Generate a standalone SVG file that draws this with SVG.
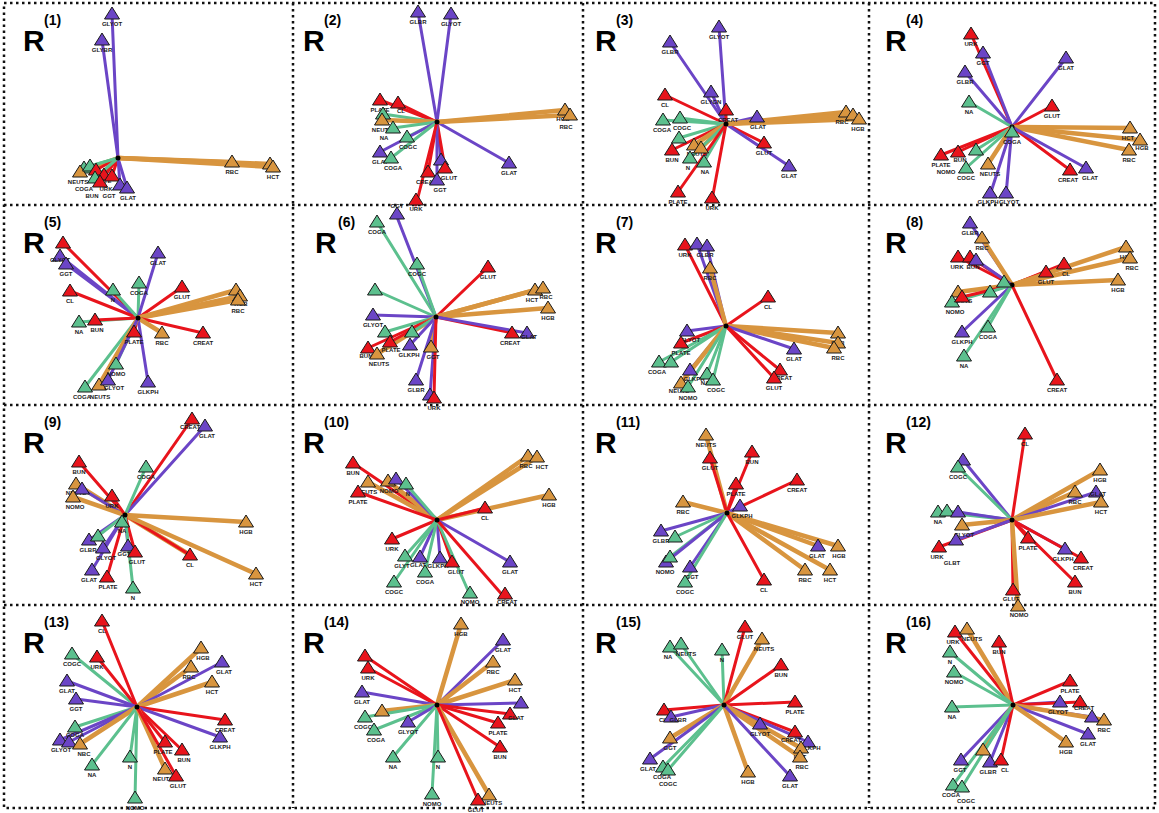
<svg xmlns="http://www.w3.org/2000/svg" width="1159" height="813" viewBox="0 0 1159 813">
<defs>
<style>
.frame{stroke:#111;stroke-width:2.5;stroke-dasharray:2.5 3.5;fill:none}
.cn line{stroke-width:3;stroke-linecap:round}
line.p{stroke:#6b45c6}
line.r{stroke:#e8141c}
line.o{stroke:#d8953f;stroke-width:4.5}
line.g{stroke:#5cc08e}
use{stroke:#1a1a1a;stroke-width:1}
use.p{fill:#6b45c6}
use.r{fill:#e8141c}
use.o{fill:#d8953f}
use.g{fill:#5cc08e}
.lb{font-family:"Liberation Sans",Arial,sans-serif;font-weight:700;font-size:6px;fill:#1a1a1a;text-anchor:middle}
.t{font-family:"Liberation Sans",Arial,sans-serif;font-weight:700;font-size:30px;fill:#000}
.s{font-family:"Liberation Sans",Arial,sans-serif;font-weight:700;font-size:14px;fill:#000}
.ctr{fill:#000}
</style>
<path id="tri" d="M0,-7L7.5,5H-7.5Z"/>
</defs>
<rect width="1159" height="813" fill="#fff"/>
<path class="frame" d="M4,3H1155V808H4Z M293,3V808 M583,3V808 M869,3V808 M4,205H1155 M4,405H1155 M4,605H1155"/>

<g id="titles">
<text class="t" x="23" y="51">R</text><text class="s" x="44" y="25">(1)</text>
<text class="t" x="303" y="51">R</text><text class="s" x="324" y="25">(2)</text>
<text class="t" x="595" y="51">R</text><text class="s" x="616" y="25">(3)</text>
<text class="t" x="885" y="51">R</text><text class="s" x="906" y="25">(4)</text>
<text class="t" x="23" y="253">R</text><text class="s" x="44" y="227">(5)</text>
<text class="t" x="315" y="253">R</text><text class="s" x="338" y="227">(6)</text>
<text class="t" x="595" y="253">R</text><text class="s" x="616" y="227">(7)</text>
<text class="t" x="885" y="253">R</text><text class="s" x="906" y="227">(8)</text>
<text class="t" x="23" y="453">R</text><text class="s" x="44" y="427">(9)</text>
<text class="t" x="303" y="453">R</text><text class="s" x="324" y="427">(10)</text>
<text class="t" x="595" y="453">R</text><text class="s" x="616" y="427">(11)</text>
<text class="t" x="885" y="453">R</text><text class="s" x="906" y="427">(12)</text>
<text class="t" x="23" y="653">R</text><text class="s" x="44" y="627">(13)</text>
<text class="t" x="303" y="653">R</text><text class="s" x="324" y="627">(14)</text>
<text class="t" x="595" y="653">R</text><text class="s" x="616" y="627">(15)</text>
<text class="t" x="885" y="653">R</text><text class="s" x="906" y="627">(16)</text>
</g>

<!-- Panel 1 -->
<g id="panel1">
<g id="conn1" class="cn">
<line class="p" x1="118" y1="158" x2="112" y2="14"/>
<line class="p" x1="118" y1="158" x2="102" y2="40"/>
<line class="p" x1="118" y1="158" x2="127" y2="188"/>
<line class="o" x1="118" y1="158" x2="232" y2="162"/>
<line class="o" x1="118" y1="158" x2="270" y2="164"/>
<line class="o" x1="118" y1="158" x2="273" y2="167"/>
<line class="g" x1="118" y1="158" x2="84" y2="168"/>
<line class="o" x1="118" y1="158" x2="80" y2="172"/>
<line class="r" x1="118" y1="158" x2="96" y2="170"/>
<line class="g" x1="118" y1="158" x2="90" y2="166"/>
<line class="r" x1="118" y1="158" x2="104" y2="175"/>
<line class="r" x1="118" y1="158" x2="112" y2="176"/>
<line class="r" x1="118" y1="158" x2="100" y2="182"/>
<line class="p" x1="118" y1="158" x2="120" y2="185"/>
<line class="g" x1="118" y1="158" x2="95" y2="178"/>
</g>
<circle class="ctr" cx="118" cy="158" r="2.5"/>
<g id="n1-1"><use href="#tri" class="p" x="112" y="14"/><text class="lb" x="112" y="26">GLYOT</text></g>
<g id="n1-2"><use href="#tri" class="p" x="102" y="40"/><text class="lb" x="102" y="52">GLYBR</text></g>
<g id="n1-3"><use href="#tri" class="o" x="232" y="162"/><text class="lb" x="232" y="174">RBC</text></g>
<g id="n1-4"><use href="#tri" class="o" x="270" y="164"/></g>
<g id="n1-5"><use href="#tri" class="o" x="273" y="167"/><text class="lb" x="273" y="179">HCT</text></g>
<g id="n1-6"><use href="#tri" class="g" x="84" y="168"/></g>
<g id="n1-7"><use href="#tri" class="o" x="80" y="172"/><text class="lb" x="78" y="184">NEUTS</text></g>
<g id="n1-8"><use href="#tri" class="g" x="90" y="166"/></g>
<g id="n1-9"><use href="#tri" class="r" x="96" y="170"/><text class="lb" x="102" y="183">PLATE</text></g>
<g id="n1-10"><use href="#tri" class="r" x="104" y="175"/><text class="lb" x="106" y="191">URK</text></g>
<g id="n1-11"><use href="#tri" class="r" x="112" y="176"/></g>
<g id="n1-12"><use href="#tri" class="g" x="95" y="178"/><text class="lb" x="84" y="191">COGA</text></g>
<g id="n1-13"><use href="#tri" class="r" x="100" y="182"/><text class="lb" x="92" y="198">BUN</text></g>
<g id="n1-14"><use href="#tri" class="p" x="120" y="185"/><text class="lb" x="109" y="198">GGT</text></g>
<g id="n1-15"><use href="#tri" class="p" x="127" y="188"/><text class="lb" x="128" y="200">GLAT</text></g>
</g>

<!-- Panel 2 -->
<g id="panel2">
<g id="conn2" class="cn">
<line class="p" x1="437" y1="122" x2="418" y2="12"/>
<line class="p" x1="437" y1="122" x2="451" y2="14"/>
<line class="r" x1="437" y1="122" x2="380" y2="100"/>
<line class="r" x1="437" y1="122" x2="398" y2="103"/>
<line class="g" x1="437" y1="122" x2="383" y2="114"/>
<line class="o" x1="437" y1="122" x2="382" y2="120"/>
<line class="g" x1="437" y1="122" x2="393" y2="128"/>
<line class="g" x1="437" y1="122" x2="407" y2="137"/>
<line class="p" x1="437" y1="122" x2="380" y2="152"/>
<line class="g" x1="437" y1="122" x2="391" y2="158"/>
<line class="r" x1="437" y1="122" x2="428" y2="172"/>
<line class="p" x1="437" y1="122" x2="441" y2="160"/>
<line class="r" x1="437" y1="122" x2="445" y2="168"/>
<line class="p" x1="437" y1="122" x2="437" y2="180"/>
<line class="r" x1="437" y1="122" x2="416" y2="205"/>
<line class="p" x1="437" y1="122" x2="509" y2="163"/>
<line class="o" x1="437" y1="122" x2="565" y2="110"/>
<line class="o" x1="437" y1="122" x2="570" y2="115"/>
</g>
<circle class="ctr" cx="437" cy="122" r="2.5"/>
<g id="n2-1"><use href="#tri" class="p" x="418" y="12"/><text class="lb" x="418" y="24">GLBR</text></g>
<g id="n2-2"><use href="#tri" class="p" x="451" y="14"/><text class="lb" x="451" y="26">GLYOT</text></g>
<g id="n2-3"><use href="#tri" class="r" x="380" y="100"/><text class="lb" x="380" y="112">PLATE</text></g>
<g id="n2-4"><use href="#tri" class="r" x="398" y="103"/><text class="lb" x="401" y="113">CL</text></g>
<g id="n2-5"><use href="#tri" class="g" x="383" y="114"/></g>
<g id="n2-6"><use href="#tri" class="o" x="382" y="120"/><text class="lb" x="382" y="132">NEUTS</text></g>
<g id="n2-7"><use href="#tri" class="g" x="393" y="128"/><text class="lb" x="384" y="140">NA</text></g>
<g id="n2-8"><use href="#tri" class="g" x="407" y="137"/><text class="lb" x="408" y="149">COGC</text></g>
<g id="n2-9"><use href="#tri" class="p" x="380" y="152"/><text class="lb" x="380" y="164">GLAT</text></g>
<g id="n2-10"><use href="#tri" class="g" x="391" y="158"/><text class="lb" x="393" y="170">COGA</text></g>
<g id="n2-11"><use href="#tri" class="p" x="441" y="160"/></g>
<g id="n2-12"><use href="#tri" class="r" x="445" y="168"/><text class="lb" x="449" y="180">GLUT</text></g>
<g id="n2-13"><use href="#tri" class="r" x="428" y="172"/><text class="lb" x="426" y="184">CREAT</text></g>
<g id="n2-14"><use href="#tri" class="p" x="437" y="180"/><text class="lb" x="440" y="192">GGT</text></g>
<g id="n2-15"><use href="#tri" class="r" x="416" y="200"/><text class="lb" x="416" y="211">URK</text></g>
<g id="n2-16"><use href="#tri" class="p" x="509" y="163"/><text class="lb" x="509" y="175">GLAT</text></g>
<g id="n2-17"><use href="#tri" class="o" x="565" y="110"/><text class="lb" x="563" y="121">HGB</text></g>
<g id="n2-18"><use href="#tri" class="o" x="570" y="115"/><text class="lb" x="566" y="129">RBC</text></g>
</g>

<!-- Panel 3 -->
<g id="panel3">
<g id="conn3" class="cn">
<line class="p" x1="726" y1="124" x2="670" y2="42"/>
<line class="p" x1="726" y1="124" x2="719" y2="27"/>
<line class="p" x1="726" y1="124" x2="711" y2="92"/>
<line class="r" x1="726" y1="124" x2="665" y2="95"/>
<line class="r" x1="726" y1="124" x2="726" y2="110"/>
<line class="p" x1="726" y1="124" x2="757" y2="117"/>
<line class="g" x1="726" y1="124" x2="663" y2="120"/>
<line class="g" x1="726" y1="124" x2="680" y2="118"/>
<line class="g" x1="726" y1="124" x2="679" y2="138"/>
<line class="r" x1="726" y1="124" x2="672" y2="150"/>
<line class="o" x1="726" y1="124" x2="694" y2="145"/>
<line class="o" x1="726" y1="124" x2="701" y2="148"/>
<line class="g" x1="726" y1="124" x2="690" y2="158"/>
<line class="g" x1="726" y1="124" x2="704" y2="162"/>
<line class="r" x1="726" y1="124" x2="764" y2="143"/>
<line class="p" x1="726" y1="124" x2="789" y2="166"/>
<line class="r" x1="726" y1="124" x2="678" y2="192"/>
<line class="r" x1="726" y1="124" x2="712" y2="200"/>
<line class="o" x1="726" y1="124" x2="846" y2="112"/>
<line class="o" x1="726" y1="124" x2="853" y2="115"/>
<line class="o" x1="726" y1="124" x2="859" y2="119"/>
</g>
<circle class="ctr" cx="726" cy="124" r="2.5"/>
<g id="n3-1"><use href="#tri" class="p" x="670" y="42"/><text class="lb" x="670" y="54">GLBR</text></g>
<g id="n3-2"><use href="#tri" class="p" x="719" y="27"/><text class="lb" x="719" y="39">GLYOT</text></g>
<g id="n3-3"><use href="#tri" class="p" x="711" y="92"/><text class="lb" x="711" y="104">GLYGN</text></g>
<g id="n3-4"><use href="#tri" class="r" x="665" y="95"/><text class="lb" x="665" y="107">CL</text></g>
<g id="n3-5"><use href="#tri" class="r" x="726" y="110"/><text class="lb" x="728" y="122">CREAT</text></g>
<g id="n3-6"><use href="#tri" class="p" x="757" y="117"/><text class="lb" x="758" y="129">GLAT</text></g>
<g id="n3-7"><use href="#tri" class="g" x="663" y="120"/><text class="lb" x="662" y="132">COGA</text></g>
<g id="n3-8"><use href="#tri" class="g" x="680" y="118"/><text class="lb" x="682" y="130">COGC</text></g>
<g id="n3-9"><use href="#tri" class="g" x="679" y="138"/></g>
<g id="n3-10"><use href="#tri" class="r" x="672" y="150"/><text class="lb" x="672" y="162">BUN</text></g>
<g id="n3-11"><use href="#tri" class="o" x="694" y="145"/><text class="lb" x="697" y="156">NEUTS</text></g>
<g id="n3-12"><use href="#tri" class="o" x="701" y="148"/></g>
<g id="n3-13"><use href="#tri" class="g" x="690" y="158"/><text class="lb" x="688" y="170">N</text></g>
<g id="n3-14"><use href="#tri" class="g" x="704" y="162"/><text class="lb" x="705" y="174">NA</text></g>
<g id="n3-15"><use href="#tri" class="r" x="764" y="143"/><text class="lb" x="764" y="155">GLUT</text></g>
<g id="n3-16"><use href="#tri" class="p" x="789" y="166"/><text class="lb" x="789" y="178">GLAT</text></g>
<g id="n3-17"><use href="#tri" class="r" x="678" y="192"/><text class="lb" x="678" y="204">PLATE</text></g>
<g id="n3-18"><use href="#tri" class="r" x="712" y="198"/><text class="lb" x="712" y="210">URK</text></g>
<g id="n3-19"><use href="#tri" class="o" x="846" y="112"/><text class="lb" x="842" y="124">RBC</text></g>
<g id="n3-20"><use href="#tri" class="o" x="853" y="115"/></g>
<g id="n3-21"><use href="#tri" class="o" x="859" y="119"/><text class="lb" x="858" y="131">HGB</text></g>
</g>

<!-- Panel 4 -->
<g id="panel4">
<g id="conn4" class="cn">
<line class="r" x1="1012" y1="127" x2="971" y2="34"/>
<line class="p" x1="1012" y1="127" x2="983" y2="53"/>
<line class="p" x1="1012" y1="127" x2="965" y2="72"/>
<line class="g" x1="1012" y1="127" x2="969" y2="102"/>
<line class="p" x1="1012" y1="127" x2="1066" y2="58"/>
<line class="r" x1="1012" y1="127" x2="1052" y2="106"/>
<line class="o" x1="1012" y1="127" x2="1130" y2="128"/>
<line class="o" x1="1012" y1="127" x2="1140" y2="140"/>
<line class="o" x1="1012" y1="127" x2="1129" y2="150"/>
<line class="r" x1="1012" y1="127" x2="1070" y2="170"/>
<line class="p" x1="1012" y1="127" x2="1086" y2="168"/>
<line class="r" x1="1012" y1="127" x2="941" y2="155"/>
<line class="r" x1="1012" y1="127" x2="958" y2="152"/>
<line class="g" x1="1012" y1="127" x2="976" y2="150"/>
<line class="g" x1="1012" y1="127" x2="966" y2="168"/>
<line class="o" x1="1012" y1="127" x2="988" y2="164"/>
<line class="p" x1="1012" y1="127" x2="990" y2="195"/>
<line class="p" x1="1012" y1="127" x2="1006" y2="195"/>
</g>
<circle class="ctr" cx="1012" cy="127" r="2.5"/>
<g id="n4-1"><use href="#tri" class="r" x="971" y="34"/><text class="lb" x="971" y="46">URK</text></g>
<g id="n4-2"><use href="#tri" class="p" x="983" y="53"/><text class="lb" x="983" y="65">GGT</text></g>
<g id="n4-3"><use href="#tri" class="p" x="965" y="72"/><text class="lb" x="965" y="84">GLBR</text></g>
<g id="n4-4"><use href="#tri" class="g" x="969" y="102"/><text class="lb" x="969" y="114">NA</text></g>
<g id="n4-5"><use href="#tri" class="p" x="1066" y="58"/><text class="lb" x="1066" y="70">GLAT</text></g>
<g id="n4-6"><use href="#tri" class="r" x="1052" y="106"/><text class="lb" x="1052" y="118">GLUT</text></g>
<g id="n4-7"><use href="#tri" class="g" x="1012" y="132"/><text class="lb" x="1012" y="144">COGA</text></g>
<g id="n4-8"><use href="#tri" class="o" x="1130" y="128"/><text class="lb" x="1128" y="140">HCT</text></g>
<g id="n4-9"><use href="#tri" class="o" x="1140" y="140"/><text class="lb" x="1142" y="150">HGB</text></g>
<g id="n4-10"><use href="#tri" class="o" x="1129" y="150"/><text class="lb" x="1129" y="162">RBC</text></g>
<g id="n4-11"><use href="#tri" class="r" x="1070" y="170"/><text class="lb" x="1068" y="182">CREAT</text></g>
<g id="n4-12"><use href="#tri" class="p" x="1086" y="168"/><text class="lb" x="1090" y="180">GLAT</text></g>
<g id="n4-13"><use href="#tri" class="r" x="941" y="155"/><text class="lb" x="941" y="167">PLATE</text></g>
<g id="n4-14"><use href="#tri" class="r" x="958" y="152"/><text class="lb" x="960" y="162">BUN</text></g>
<g id="n4-15"><use href="#tri" class="g" x="976" y="150"/><text class="lb" x="946" y="174">NOMO</text></g>
<g id="n4-16"><use href="#tri" class="g" x="966" y="168"/><text class="lb" x="966" y="180">COGC</text></g>
<g id="n4-17"><use href="#tri" class="o" x="988" y="164"/><text class="lb" x="990" y="176">NEUTS</text></g>
<g id="n4-18"><use href="#tri" class="p" x="990" y="193"/><text class="lb" x="988" y="204">GLKPH</text></g>
<g id="n4-19"><use href="#tri" class="p" x="1006" y="193"/><text class="lb" x="1009" y="204">GLYOT</text></g>
</g>

<!-- Panel 5 -->
<g id="panel5">
<g id="conn5" class="cn">
<line class="r" x1="138" y1="318" x2="63" y2="243"/>
<line class="p" x1="138" y1="318" x2="60" y2="256"/>
<line class="p" x1="138" y1="318" x2="66" y2="264"/>
<line class="r" x1="138" y1="318" x2="70" y2="291"/>
<line class="g" x1="138" y1="318" x2="113" y2="290"/>
<line class="g" x1="138" y1="318" x2="139" y2="283"/>
<line class="p" x1="138" y1="318" x2="158" y2="253"/>
<line class="r" x1="138" y1="318" x2="182" y2="287"/>
<line class="o" x1="138" y1="318" x2="236" y2="290"/>
<line class="o" x1="138" y1="318" x2="240" y2="296"/>
<line class="o" x1="138" y1="318" x2="238" y2="300"/>
<line class="r" x1="138" y1="318" x2="203" y2="333"/>
<line class="o" x1="138" y1="318" x2="162" y2="333"/>
<line class="r" x1="138" y1="318" x2="134" y2="332"/>
<line class="g" x1="138" y1="318" x2="79" y2="322"/>
<line class="r" x1="138" y1="318" x2="95" y2="320"/>
<line class="g" x1="138" y1="318" x2="116" y2="364"/>
<line class="p" x1="138" y1="318" x2="148" y2="382"/>
<line class="g" x1="138" y1="318" x2="85" y2="387"/>
<line class="o" x1="138" y1="318" x2="99" y2="385"/>
<line class="p" x1="138" y1="318" x2="108" y2="380"/>
</g>
<circle class="ctr" cx="138" cy="318" r="2.5"/>
<g id="n5-1"><use href="#tri" class="r" x="63" y="243"/></g>
<g id="n5-2"><use href="#tri" class="p" x="60" y="256"/><text class="lb" x="60" y="262">GLYOT</text></g>
<g id="n5-3"><use href="#tri" class="p" x="66" y="264"/><text class="lb" x="66" y="276">GGT</text></g>
<g id="n5-4"><use href="#tri" class="r" x="70" y="291"/><text class="lb" x="70" y="303">CL</text></g>
<g id="n5-5"><use href="#tri" class="g" x="113" y="290"/><text class="lb" x="113" y="302">N</text></g>
<g id="n5-6"><use href="#tri" class="g" x="139" y="283"/><text class="lb" x="139" y="295">COGA</text></g>
<g id="n5-7"><use href="#tri" class="p" x="158" y="253"/><text class="lb" x="158" y="265">GLAT</text></g>
<g id="n5-8"><use href="#tri" class="r" x="182" y="287"/><text class="lb" x="182" y="299">GLUT</text></g>
<g id="n5-9"><use href="#tri" class="o" x="236" y="290"/></g>
<g id="n5-10"><use href="#tri" class="o" x="240" y="296"/><text class="lb" x="241" y="306">HGB</text></g>
<g id="n5-11"><use href="#tri" class="o" x="238" y="300"/><text class="lb" x="238" y="313">RBC</text></g>
<g id="n5-12"><use href="#tri" class="r" x="203" y="333"/><text class="lb" x="203" y="345">CREAT</text></g>
<g id="n5-13"><use href="#tri" class="o" x="162" y="333"/><text class="lb" x="162" y="345">RBC</text></g>
<g id="n5-14"><use href="#tri" class="r" x="134" y="332"/><text class="lb" x="134" y="344">PLATE</text></g>
<g id="n5-15"><use href="#tri" class="g" x="79" y="322"/><text class="lb" x="79" y="334">NA</text></g>
<g id="n5-16"><use href="#tri" class="r" x="95" y="320"/><text class="lb" x="97" y="332">BUN</text></g>
<g id="n5-17"><use href="#tri" class="g" x="116" y="364"/><text class="lb" x="116" y="376">NOMO</text></g>
<g id="n5-18"><use href="#tri" class="p" x="148" y="382"/><text class="lb" x="148" y="394">GLKPH</text></g>
<g id="n5-19"><use href="#tri" class="g" x="85" y="387"/><text class="lb" x="82" y="399">COGA</text></g>
<g id="n5-20"><use href="#tri" class="o" x="99" y="385"/><text class="lb" x="100" y="399">NEUTS</text></g>
<g id="n5-21"><use href="#tri" class="p" x="108" y="380"/><text class="lb" x="114" y="390">GLYOT</text></g>
</g>

<!-- Panel 6 -->
<g id="panel6">
<g id="conn6" class="cn">
<line class="g" x1="436" y1="317" x2="377" y2="222"/>
<line class="p" x1="436" y1="317" x2="397" y2="217"/>
<line class="g" x1="436" y1="317" x2="417" y2="264"/>
<line class="r" x1="436" y1="317" x2="488" y2="267"/>
<line class="o" x1="436" y1="317" x2="535" y2="290"/>
<line class="o" x1="436" y1="317" x2="543" y2="288"/>
<line class="o" x1="436" y1="317" x2="548" y2="308"/>
<line class="r" x1="436" y1="317" x2="512" y2="333"/>
<line class="p" x1="436" y1="317" x2="527" y2="333"/>
<line class="g" x1="436" y1="317" x2="375" y2="290"/>
<line class="p" x1="436" y1="317" x2="373" y2="315"/>
<line class="g" x1="436" y1="317" x2="385" y2="332"/>
<line class="r" x1="436" y1="317" x2="368" y2="348"/>
<line class="o" x1="436" y1="317" x2="377" y2="354"/>
<line class="r" x1="436" y1="317" x2="390" y2="342"/>
<line class="g" x1="436" y1="317" x2="412" y2="332"/>
<line class="p" x1="436" y1="317" x2="410" y2="345"/>
<line class="o" x1="436" y1="317" x2="431" y2="347"/>
<line class="p" x1="436" y1="317" x2="416" y2="380"/>
<line class="p" x1="436" y1="317" x2="430" y2="395"/>
<line class="r" x1="436" y1="317" x2="434" y2="398"/>
</g>
<circle class="ctr" cx="436" cy="317" r="2.5"/>
<g id="n6-1"><use href="#tri" class="g" x="377" y="222"/><text class="lb" x="377" y="234">COGA</text></g>
<g id="n6-2"><use href="#tri" class="p" x="397" y="214"/><text class="lb" x="397" y="208">GGT</text></g>
<g id="n6-3"><use href="#tri" class="g" x="417" y="264"/><text class="lb" x="417" y="276">COGC</text></g>
<g id="n6-4"><use href="#tri" class="r" x="488" y="267"/><text class="lb" x="488" y="279">GLUT</text></g>
<g id="n6-5"><use href="#tri" class="o" x="535" y="290"/><text class="lb" x="532" y="302">HCT</text></g>
<g id="n6-6"><use href="#tri" class="o" x="543" y="288"/><text class="lb" x="546" y="299">RBC</text></g>
<g id="n6-7"><use href="#tri" class="o" x="548" y="308"/><text class="lb" x="548" y="320">HGB</text></g>
<g id="n6-8"><use href="#tri" class="r" x="512" y="333"/><text class="lb" x="510" y="345">CREAT</text></g>
<g id="n6-9"><use href="#tri" class="p" x="527" y="333"/><text class="lb" x="529" y="339">GLAT</text></g>
<g id="n6-10"><use href="#tri" class="g" x="375" y="290"/></g>
<g id="n6-11"><use href="#tri" class="p" x="373" y="315"/><text class="lb" x="373" y="327">GLYOT</text></g>
<g id="n6-12"><use href="#tri" class="g" x="385" y="332"/></g>
<g id="n6-13"><use href="#tri" class="r" x="368" y="348"/><text class="lb" x="366" y="358">BUN</text></g>
<g id="n6-14"><use href="#tri" class="o" x="377" y="354"/><text class="lb" x="379" y="366">NEUTS</text></g>
<g id="n6-15"><use href="#tri" class="r" x="390" y="342"/><text class="lb" x="391" y="352">PLATE</text></g>
<g id="n6-16"><use href="#tri" class="g" x="412" y="332"/></g>
<g id="n6-17"><use href="#tri" class="p" x="410" y="345"/><text class="lb" x="409" y="357">GLKPH</text></g>
<g id="n6-18"><use href="#tri" class="o" x="431" y="347"/><text class="lb" x="433" y="359">GGT</text></g>
<g id="n6-19"><use href="#tri" class="p" x="416" y="380"/><text class="lb" x="416" y="392">GLBR</text></g>
<g id="n6-20"><use href="#tri" class="p" x="430" y="395"/></g>
<g id="n6-21"><use href="#tri" class="r" x="434" y="398"/><text class="lb" x="434" y="410">URK</text></g>
</g>

<!-- Panel 7 -->
<g id="panel7">
<g id="conn7" class="cn">
<line class="r" x1="726" y1="326" x2="685" y2="245"/>
<line class="p" x1="726" y1="326" x2="697" y2="244"/>
<line class="p" x1="726" y1="326" x2="707" y2="246"/>
<line class="o" x1="726" y1="326" x2="710" y2="268"/>
<line class="r" x1="726" y1="326" x2="768" y2="297"/>
<line class="o" x1="726" y1="326" x2="838" y2="333"/>
<line class="o" x1="726" y1="326" x2="838" y2="343"/>
<line class="o" x1="726" y1="326" x2="834" y2="348"/>
<line class="p" x1="726" y1="326" x2="794" y2="349"/>
<line class="r" x1="726" y1="326" x2="780" y2="370"/>
<line class="r" x1="726" y1="326" x2="774" y2="378"/>
<line class="p" x1="726" y1="326" x2="687" y2="331"/>
<line class="r" x1="726" y1="326" x2="681" y2="343"/>
<line class="g" x1="726" y1="326" x2="659" y2="362"/>
<line class="g" x1="726" y1="326" x2="671" y2="362"/>
<line class="p" x1="726" y1="326" x2="690" y2="370"/>
<line class="o" x1="726" y1="326" x2="681" y2="383"/>
<line class="g" x1="726" y1="326" x2="688" y2="387"/>
<line class="g" x1="726" y1="326" x2="707" y2="374"/>
<line class="g" x1="726" y1="326" x2="713" y2="380"/>
</g>
<circle class="ctr" cx="726" cy="326" r="2.5"/>
<g id="n7-1"><use href="#tri" class="r" x="685" y="245"/><text class="lb" x="685" y="257">URK</text></g>
<g id="n7-2"><use href="#tri" class="p" x="697" y="244"/></g>
<g id="n7-3"><use href="#tri" class="p" x="707" y="246"/><text class="lb" x="705" y="257">GLBR</text></g>
<g id="n7-4"><use href="#tri" class="o" x="710" y="268"/><text class="lb" x="710" y="280">RBC</text></g>
<g id="n7-5"><use href="#tri" class="r" x="768" y="297"/><text class="lb" x="768" y="309">CL</text></g>
<g id="n7-6"><use href="#tri" class="o" x="838" y="333"/><text class="lb" x="838" y="345">HGB</text></g>
<g id="n7-7"><use href="#tri" class="o" x="838" y="343"/></g>
<g id="n7-8"><use href="#tri" class="o" x="834" y="348"/><text class="lb" x="838" y="360">RBC</text></g>
<g id="n7-9"><use href="#tri" class="p" x="794" y="349"/><text class="lb" x="794" y="361">GLAT</text></g>
<g id="n7-10"><use href="#tri" class="r" x="780" y="370"/><text class="lb" x="782" y="380">CREAT</text></g>
<g id="n7-11"><use href="#tri" class="r" x="774" y="378"/><text class="lb" x="774" y="390">GLUT</text></g>
<g id="n7-12"><use href="#tri" class="p" x="687" y="331"/><text class="lb" x="690" y="342">GLYOT</text></g>
<g id="n7-13"><use href="#tri" class="r" x="681" y="343"/><text class="lb" x="681" y="355">PLATE</text></g>
<g id="n7-14"><use href="#tri" class="g" x="659" y="362"/><text class="lb" x="657" y="374">COGA</text></g>
<g id="n7-15"><use href="#tri" class="g" x="671" y="362"/></g>
<g id="n7-16"><use href="#tri" class="p" x="690" y="370"/><text class="lb" x="694" y="381">GLKPH</text></g>
<g id="n7-17"><use href="#tri" class="o" x="681" y="383"/><text class="lb" x="679" y="393">NEUTS</text></g>
<g id="n7-18"><use href="#tri" class="g" x="688" y="387"/><text class="lb" x="688" y="400">NOMO</text></g>
<g id="n7-19"><use href="#tri" class="g" x="707" y="374"/><text class="lb" x="705" y="385">NA</text></g>
<g id="n7-20"><use href="#tri" class="g" x="713" y="380"/><text class="lb" x="716" y="392">COGC</text></g>
</g>

<!-- Panel 8 -->
<g id="panel8">
<g id="conn8" class="cn">
<line class="p" x1="1012" y1="285" x2="970" y2="223"/>
<line class="o" x1="1012" y1="285" x2="982" y2="238"/>
<line class="r" x1="1012" y1="285" x2="958" y2="257"/>
<line class="r" x1="1012" y1="285" x2="970" y2="257"/>
<line class="p" x1="1012" y1="285" x2="976" y2="260"/>
<line class="r" x1="1012" y1="285" x2="1064" y2="264"/>
<line class="r" x1="1012" y1="285" x2="1046" y2="272"/>
<line class="o" x1="1012" y1="285" x2="1126" y2="247"/>
<line class="o" x1="1012" y1="285" x2="1130" y2="258"/>
<line class="o" x1="1012" y1="285" x2="1118" y2="280"/>
<line class="o" x1="1012" y1="285" x2="958" y2="292"/>
<line class="g" x1="1012" y1="285" x2="952" y2="302"/>
<line class="r" x1="1012" y1="285" x2="962" y2="297"/>
<line class="g" x1="1012" y1="285" x2="990" y2="292"/>
<line class="p" x1="1012" y1="285" x2="962" y2="332"/>
<line class="g" x1="1012" y1="285" x2="988" y2="327"/>
<line class="g" x1="1012" y1="285" x2="964" y2="356"/>
<line class="r" x1="1012" y1="285" x2="1057" y2="380"/>
</g>
<circle class="ctr" cx="1012" cy="285" r="2.5"/>
<g id="n8-1"><use href="#tri" class="p" x="970" y="223"/><text class="lb" x="970" y="235">GLBR</text></g>
<g id="n8-2"><use href="#tri" class="o" x="982" y="238"/><text class="lb" x="982" y="250">RBC</text></g>
<g id="n8-3"><use href="#tri" class="r" x="958" y="257"/><text class="lb" x="957" y="269">URK</text></g>
<g id="n8-4"><use href="#tri" class="r" x="970" y="257"/><text class="lb" x="973" y="269">BUN</text></g>
<g id="n8-5"><use href="#tri" class="p" x="976" y="260"/></g>
<g id="n8-6"><use href="#tri" class="r" x="1064" y="264"/><text class="lb" x="1066" y="276">CL</text></g>
<g id="n8-7"><use href="#tri" class="r" x="1046" y="272"/><text class="lb" x="1046" y="284">GLUT</text></g>
<g id="n8-8"><use href="#tri" class="o" x="1126" y="247"/><text class="lb" x="1126" y="259">HCT</text></g>
<g id="n8-9"><use href="#tri" class="o" x="1130" y="258"/><text class="lb" x="1132" y="270">RBC</text></g>
<g id="n8-10"><use href="#tri" class="o" x="1118" y="280"/><text class="lb" x="1118" y="292">HGB</text></g>
<g id="n8-11"><use href="#tri" class="g" x="1004" y="282"/></g>
<g id="n8-12"><use href="#tri" class="g" x="990" y="292"/></g>
<g id="n8-13"><use href="#tri" class="o" x="958" y="292"/><text class="lb" x="962" y="303">NEUTS</text></g>
<g id="n8-14"><use href="#tri" class="g" x="952" y="302"/><text class="lb" x="955" y="314">NOMO</text></g>
<g id="n8-15"><use href="#tri" class="r" x="962" y="297"/></g>
<g id="n8-16"><use href="#tri" class="p" x="962" y="332"/><text class="lb" x="962" y="344">GLKPH</text></g>
<g id="n8-17"><use href="#tri" class="g" x="988" y="327"/><text class="lb" x="988" y="339">COGA</text></g>
<g id="n8-18"><use href="#tri" class="g" x="964" y="356"/><text class="lb" x="964" y="368">NA</text></g>
<g id="n8-19"><use href="#tri" class="r" x="1057" y="380"/><text class="lb" x="1057" y="392">CREAT</text></g>
</g>

<!-- Panel 9 -->
<g id="panel9">
<g id="conn9" class="cn">
<line class="r" x1="125" y1="515" x2="192" y2="419"/>
<line class="p" x1="125" y1="515" x2="205" y2="426"/>
<line class="g" x1="125" y1="515" x2="146" y2="467"/>
<line class="r" x1="125" y1="515" x2="79" y2="462"/>
<line class="o" x1="125" y1="515" x2="76" y2="484"/>
<line class="p" x1="125" y1="515" x2="82" y2="489"/>
<line class="o" x1="125" y1="515" x2="73" y2="497"/>
<line class="r" x1="125" y1="515" x2="112" y2="496"/>
<line class="g" x1="125" y1="515" x2="122" y2="522"/>
<line class="o" x1="125" y1="515" x2="246" y2="522"/>
<line class="o" x1="125" y1="515" x2="190" y2="555"/>
<line class="r" x1="125" y1="515" x2="190" y2="555"/>
<line class="o" x1="125" y1="515" x2="256" y2="574"/>
<line class="p" x1="125" y1="515" x2="89" y2="540"/>
<line class="g" x1="125" y1="515" x2="98" y2="536"/>
<line class="p" x1="125" y1="515" x2="103" y2="548"/>
<line class="p" x1="125" y1="515" x2="128" y2="546"/>
<line class="r" x1="125" y1="515" x2="135" y2="552"/>
<line class="p" x1="125" y1="515" x2="92" y2="570"/>
<line class="r" x1="125" y1="515" x2="107" y2="577"/>
<line class="g" x1="125" y1="515" x2="133" y2="588"/>
</g>
<circle class="ctr" cx="125" cy="515" r="2.5"/>
<g id="n9-1"><use href="#tri" class="r" x="192" y="419"/><text class="lb" x="190" y="429">CREAT</text></g>
<g id="n9-2"><use href="#tri" class="p" x="205" y="426"/><text class="lb" x="207" y="438">GLAT</text></g>
<g id="n9-3"><use href="#tri" class="g" x="146" y="467"/><text class="lb" x="146" y="479">COGA</text></g>
<g id="n9-4"><use href="#tri" class="r" x="79" y="462"/><text class="lb" x="79" y="474">BUN</text></g>
<g id="n9-5"><use href="#tri" class="o" x="76" y="484"/><text class="lb" x="76" y="495">NEUTS</text></g>
<g id="n9-6"><use href="#tri" class="p" x="82" y="489"/></g>
<g id="n9-7"><use href="#tri" class="o" x="73" y="497"/><text class="lb" x="75" y="509">NOMO</text></g>
<g id="n9-8"><use href="#tri" class="r" x="112" y="496"/><text class="lb" x="112" y="508">URK</text></g>
<g id="n9-9"><use href="#tri" class="g" x="122" y="522"/><text class="lb" x="122" y="533">NA</text></g>
<g id="n9-10"><use href="#tri" class="o" x="246" y="522"/><text class="lb" x="246" y="534">HGB</text></g>
<g id="n9-11"><use href="#tri" class="r" x="190" y="555"/><text class="lb" x="190" y="567">CL</text></g>
<g id="n9-12"><use href="#tri" class="o" x="256" y="574"/><text class="lb" x="256" y="586">HCT</text></g>
<g id="n9-13"><use href="#tri" class="p" x="89" y="540"/><text class="lb" x="88" y="552">GLBR</text></g>
<g id="n9-14"><use href="#tri" class="g" x="98" y="536"/></g>
<g id="n9-15"><use href="#tri" class="p" x="103" y="548"/><text class="lb" x="106" y="560">GLYOT</text></g>
<g id="n9-16"><use href="#tri" class="p" x="128" y="546"/><text class="lb" x="124" y="556">GGT</text></g>
<g id="n9-17"><use href="#tri" class="r" x="135" y="552"/><text class="lb" x="137" y="564">GLUT</text></g>
<g id="n9-18"><use href="#tri" class="p" x="92" y="570"/><text class="lb" x="89" y="582">GLAT</text></g>
<g id="n9-19"><use href="#tri" class="r" x="107" y="577"/><text class="lb" x="108" y="589">PLATE</text></g>
<g id="n9-20"><use href="#tri" class="g" x="133" y="588"/><text class="lb" x="133" y="600">N</text></g>
</g>

<!-- Panel 10 -->
<g id="panel10">
<g id="conn10" class="cn">
<line class="r" x1="437" y1="520" x2="353" y2="463"/>
<line class="o" x1="437" y1="520" x2="368" y2="482"/>
<line class="o" x1="437" y1="520" x2="388" y2="481"/>
<line class="p" x1="437" y1="520" x2="396" y2="479"/>
<line class="g" x1="437" y1="520" x2="406" y2="484"/>
<line class="r" x1="437" y1="520" x2="358" y2="492"/>
<line class="o" x1="437" y1="520" x2="528" y2="456"/>
<line class="o" x1="437" y1="520" x2="537" y2="457"/>
<line class="o" x1="437" y1="520" x2="549" y2="495"/>
<line class="r" x1="437" y1="520" x2="485" y2="508"/>
<line class="r" x1="437" y1="520" x2="392" y2="539"/>
<line class="g" x1="437" y1="520" x2="405" y2="556"/>
<line class="p" x1="437" y1="520" x2="420" y2="557"/>
<line class="p" x1="437" y1="520" x2="440" y2="558"/>
<line class="r" x1="437" y1="520" x2="452" y2="562"/>
<line class="g" x1="437" y1="520" x2="394" y2="582"/>
<line class="g" x1="437" y1="520" x2="425" y2="572"/>
<line class="p" x1="437" y1="520" x2="510" y2="562"/>
<line class="g" x1="437" y1="520" x2="470" y2="595"/>
<line class="r" x1="437" y1="520" x2="505" y2="598"/>
</g>
<circle class="ctr" cx="437" cy="520" r="2.5"/>
<g id="n10-1"><use href="#tri" class="r" x="353" y="463"/><text class="lb" x="353" y="475">BUN</text></g>
<g id="n10-2"><use href="#tri" class="o" x="368" y="482"/><text class="lb" x="367" y="494">NEUTS</text></g>
<g id="n10-3"><use href="#tri" class="o" x="388" y="481"/><text class="lb" x="389" y="493">NOMO</text></g>
<g id="n10-4"><use href="#tri" class="p" x="396" y="479"/></g>
<g id="n10-5"><use href="#tri" class="g" x="406" y="484"/><text class="lb" x="408" y="496">N</text></g>
<g id="n10-6"><use href="#tri" class="r" x="358" y="492"/><text class="lb" x="358" y="504">PLATE</text></g>
<g id="n10-7"><use href="#tri" class="o" x="528" y="456"/><text class="lb" x="526" y="468">RBC</text></g>
<g id="n10-8"><use href="#tri" class="o" x="537" y="457"/><text class="lb" x="542" y="469">HCT</text></g>
<g id="n10-9"><use href="#tri" class="o" x="549" y="495"/><text class="lb" x="549" y="507">HGB</text></g>
<g id="n10-10"><use href="#tri" class="r" x="485" y="508"/><text class="lb" x="485" y="520">CL</text></g>
<g id="n10-11"><use href="#tri" class="r" x="392" y="539"/><text class="lb" x="392" y="551">URK</text></g>
<g id="n10-12"><use href="#tri" class="g" x="405" y="556"/><text class="lb" x="402" y="568">GLYT</text></g>
<g id="n10-13"><use href="#tri" class="p" x="420" y="557"/><text class="lb" x="418" y="567">GLAT</text></g>
<g id="n10-14"><use href="#tri" class="p" x="440" y="558"/><text class="lb" x="438" y="568">GLKPH</text></g>
<g id="n10-15"><use href="#tri" class="r" x="452" y="562"/><text class="lb" x="456" y="574">GLUT</text></g>
<g id="n10-16"><use href="#tri" class="g" x="394" y="582"/><text class="lb" x="394" y="594">COGC</text></g>
<g id="n10-17"><use href="#tri" class="g" x="425" y="572"/><text class="lb" x="425" y="584">COGA</text></g>
<g id="n10-18"><use href="#tri" class="p" x="510" y="562"/><text class="lb" x="510" y="574">GLAT</text></g>
<g id="n10-19"><use href="#tri" class="g" x="470" y="593"/><text class="lb" x="470" y="604">NOMO</text></g>
<g id="n10-20"><use href="#tri" class="r" x="505" y="594"/><text class="lb" x="507" y="604">CREAT</text></g>
</g>

<!-- Panel 11 -->
<g id="panel11">
<g id="conn11" class="cn">
<line class="o" x1="727" y1="513" x2="706" y2="435"/>
<line class="r" x1="727" y1="513" x2="710" y2="458"/>
<line class="r" x1="727" y1="513" x2="752" y2="452"/>
<line class="r" x1="727" y1="513" x2="736" y2="484"/>
<line class="r" x1="727" y1="513" x2="797" y2="480"/>
<line class="p" x1="727" y1="513" x2="740" y2="506"/>
<line class="o" x1="727" y1="513" x2="683" y2="502"/>
<line class="p" x1="727" y1="513" x2="661" y2="531"/>
<line class="g" x1="727" y1="513" x2="675" y2="537"/>
<line class="g" x1="727" y1="513" x2="670" y2="557"/>
<line class="p" x1="727" y1="513" x2="666" y2="562"/>
<line class="p" x1="727" y1="513" x2="690" y2="567"/>
<line class="g" x1="727" y1="513" x2="685" y2="582"/>
<line class="o" x1="727" y1="513" x2="818" y2="546"/>
<line class="o" x1="727" y1="513" x2="838" y2="546"/>
<line class="o" x1="727" y1="513" x2="805" y2="570"/>
<line class="o" x1="727" y1="513" x2="830" y2="570"/>
<line class="r" x1="727" y1="513" x2="764" y2="580"/>
</g>
<circle class="ctr" cx="727" cy="513" r="2.5"/>
<g id="n11-1"><use href="#tri" class="o" x="706" y="435"/><text class="lb" x="706" y="447">NEUTS</text></g>
<g id="n11-2"><use href="#tri" class="r" x="710" y="458"/><text class="lb" x="710" y="470">GLUT</text></g>
<g id="n11-3"><use href="#tri" class="r" x="752" y="452"/><text class="lb" x="752" y="464">BUN</text></g>
<g id="n11-4"><use href="#tri" class="r" x="736" y="484"/><text class="lb" x="736" y="496">PLATE</text></g>
<g id="n11-5"><use href="#tri" class="r" x="797" y="480"/><text class="lb" x="797" y="492">CREAT</text></g>
<g id="n11-6"><use href="#tri" class="p" x="740" y="506"/><text class="lb" x="742" y="518">GLKPH</text></g>
<g id="n11-7"><use href="#tri" class="o" x="683" y="502"/><text class="lb" x="683" y="514">RBC</text></g>
<g id="n11-8"><use href="#tri" class="p" x="661" y="531"/><text class="lb" x="661" y="543">GLBR</text></g>
<g id="n11-9"><use href="#tri" class="g" x="675" y="537"/></g>
<g id="n11-10"><use href="#tri" class="p" x="666" y="562"/><text class="lb" x="665" y="574">NOMO</text></g>
<g id="n11-11"><use href="#tri" class="g" x="670" y="557"/></g>
<g id="n11-12"><use href="#tri" class="p" x="690" y="567"/><text class="lb" x="692" y="579">GGT</text></g>
<g id="n11-13"><use href="#tri" class="g" x="685" y="582"/><text class="lb" x="685" y="594">COGC</text></g>
<g id="n11-14"><use href="#tri" class="p" x="818" y="546"/><text class="lb" x="817" y="558">GLAT</text></g>
<g id="n11-15"><use href="#tri" class="o" x="838" y="546"/><text class="lb" x="839" y="558">HGB</text></g>
<g id="n11-16"><use href="#tri" class="o" x="805" y="570"/><text class="lb" x="805" y="582">RBC</text></g>
<g id="n11-17"><use href="#tri" class="o" x="830" y="570"/><text class="lb" x="830" y="582">HCT</text></g>
<g id="n11-18"><use href="#tri" class="r" x="764" y="580"/><text class="lb" x="764" y="592">CL</text></g>
</g>

<!-- Panel 12 -->
<g id="panel12">
<g id="conn12" class="cn">
<line class="r" x1="1012" y1="520" x2="1025" y2="434"/>
<line class="p" x1="1012" y1="520" x2="963" y2="460"/>
<line class="g" x1="1012" y1="520" x2="958" y2="467"/>
<line class="o" x1="1012" y1="520" x2="1100" y2="470"/>
<line class="o" x1="1012" y1="520" x2="1075" y2="492"/>
<line class="p" x1="1012" y1="520" x2="1096" y2="492"/>
<line class="o" x1="1012" y1="520" x2="1101" y2="502"/>
<line class="g" x1="1012" y1="520" x2="938" y2="512"/>
<line class="g" x1="1012" y1="520" x2="947" y2="511"/>
<line class="p" x1="1012" y1="520" x2="958" y2="512"/>
<line class="o" x1="1012" y1="520" x2="962" y2="525"/>
<line class="r" x1="1012" y1="520" x2="939" y2="547"/>
<line class="p" x1="1012" y1="520" x2="956" y2="540"/>
<line class="r" x1="1012" y1="520" x2="1028" y2="538"/>
<line class="p" x1="1012" y1="520" x2="1065" y2="549"/>
<line class="r" x1="1012" y1="520" x2="1081" y2="558"/>
<line class="r" x1="1012" y1="520" x2="1075" y2="582"/>
<line class="r" x1="1012" y1="520" x2="1013" y2="590"/>
<line class="o" x1="1012" y1="520" x2="1018" y2="608"/>
</g>
<circle class="ctr" cx="1012" cy="520" r="2.5"/>
<g id="n12-1"><use href="#tri" class="r" x="1025" y="434"/><text class="lb" x="1025" y="446">CL</text></g>
<g id="n12-2"><use href="#tri" class="p" x="963" y="460"/></g>
<g id="n12-3"><use href="#tri" class="g" x="958" y="467"/><text class="lb" x="958" y="479">COGC</text></g>
<g id="n12-4"><use href="#tri" class="o" x="1100" y="470"/><text class="lb" x="1100" y="482">HGB</text></g>
<g id="n12-5"><use href="#tri" class="o" x="1075" y="492"/><text class="lb" x="1075" y="504">RBC</text></g>
<g id="n12-6"><use href="#tri" class="p" x="1096" y="492"/><text class="lb" x="1098" y="496">GLAT</text></g>
<g id="n12-7"><use href="#tri" class="o" x="1101" y="502"/><text class="lb" x="1101" y="514">HCT</text></g>
<g id="n12-8"><use href="#tri" class="g" x="938" y="512"/><text class="lb" x="938" y="524">NA</text></g>
<g id="n12-9"><use href="#tri" class="g" x="947" y="511"/></g>
<g id="n12-10"><use href="#tri" class="p" x="958" y="512"/></g>
<g id="n12-11"><use href="#tri" class="o" x="962" y="525"/><text class="lb" x="964" y="537">GLYOT</text></g>
<g id="n12-12"><use href="#tri" class="r" x="939" y="547"/><text class="lb" x="937" y="559">URK</text></g>
<g id="n12-13"><use href="#tri" class="p" x="956" y="540"/><text class="lb" x="952" y="565">GLBT</text></g>
<g id="n12-14"><use href="#tri" class="r" x="1028" y="538"/><text class="lb" x="1028" y="550">PLATE</text></g>
<g id="n12-15"><use href="#tri" class="p" x="1065" y="549"/><text class="lb" x="1063" y="561">GLKPH</text></g>
<g id="n12-16"><use href="#tri" class="r" x="1081" y="558"/><text class="lb" x="1083" y="570">CREAT</text></g>
<g id="n12-17"><use href="#tri" class="r" x="1075" y="582"/><text class="lb" x="1075" y="594">BUN</text></g>
<g id="n12-18"><use href="#tri" class="r" x="1013" y="590"/><text class="lb" x="1011" y="601">GLUT</text></g>
<g id="n12-19"><use href="#tri" class="o" x="1018" y="606"/><text class="lb" x="1019" y="617">NOMO</text></g>
</g>

<!-- Panel 13 -->
<g id="panel13">
<g id="conn13" class="cn">
<line class="r" x1="137" y1="707" x2="102" y2="621"/>
<line class="g" x1="137" y1="707" x2="72" y2="654"/>
<line class="r" x1="137" y1="707" x2="97" y2="657"/>
<line class="o" x1="137" y1="707" x2="201" y2="648"/>
<line class="o" x1="137" y1="707" x2="191" y2="667"/>
<line class="p" x1="137" y1="707" x2="222" y2="662"/>
<line class="o" x1="137" y1="707" x2="212" y2="682"/>
<line class="p" x1="137" y1="707" x2="67" y2="681"/>
<line class="p" x1="137" y1="707" x2="76" y2="699"/>
<line class="g" x1="137" y1="707" x2="75" y2="727"/>
<line class="p" x1="137" y1="707" x2="60" y2="740"/>
<line class="p" x1="137" y1="707" x2="69" y2="742"/>
<line class="o" x1="137" y1="707" x2="80" y2="744"/>
<line class="g" x1="137" y1="707" x2="92" y2="765"/>
<line class="g" x1="137" y1="707" x2="130" y2="757"/>
<line class="g" x1="137" y1="707" x2="135" y2="800"/>
<line class="r" x1="137" y1="707" x2="225" y2="720"/>
<line class="p" x1="137" y1="707" x2="220" y2="737"/>
<line class="r" x1="137" y1="707" x2="165" y2="742"/>
<line class="r" x1="137" y1="707" x2="182" y2="750"/>
<line class="o" x1="137" y1="707" x2="165" y2="769"/>
<line class="r" x1="137" y1="707" x2="176" y2="776"/>
</g>
<circle class="ctr" cx="137" cy="707" r="2.5"/>
<g id="n13-1"><use href="#tri" class="r" x="102" y="621"/><text class="lb" x="102" y="633">CL</text></g>
<g id="n13-2"><use href="#tri" class="g" x="72" y="654"/><text class="lb" x="72" y="666">COGC</text></g>
<g id="n13-3"><use href="#tri" class="r" x="97" y="657"/><text class="lb" x="97" y="669">URK</text></g>
<g id="n13-4"><use href="#tri" class="o" x="201" y="648"/><text class="lb" x="203" y="660">HGB</text></g>
<g id="n13-5"><use href="#tri" class="o" x="191" y="667"/><text class="lb" x="189" y="679">RBC</text></g>
<g id="n13-6"><use href="#tri" class="p" x="222" y="662"/><text class="lb" x="224" y="674">GLAT</text></g>
<g id="n13-7"><use href="#tri" class="o" x="212" y="682"/><text class="lb" x="212" y="694">HCT</text></g>
<g id="n13-8"><use href="#tri" class="p" x="67" y="681"/><text class="lb" x="67" y="693">GLAT</text></g>
<g id="n13-9"><use href="#tri" class="p" x="76" y="699"/><text class="lb" x="76" y="711">GGT</text></g>
<g id="n13-10"><use href="#tri" class="g" x="75" y="727"/><text class="lb" x="75" y="737">COGA</text></g>
<g id="n13-11"><use href="#tri" class="p" x="60" y="740"/><text class="lb" x="61" y="752">GLYOT</text></g>
<g id="n13-12"><use href="#tri" class="p" x="69" y="742"/></g>
<g id="n13-13"><use href="#tri" class="o" x="80" y="744"/><text class="lb" x="84" y="756">NBC</text></g>
<g id="n13-14"><use href="#tri" class="g" x="92" y="765"/><text class="lb" x="92" y="777">NA</text></g>
<g id="n13-15"><use href="#tri" class="g" x="130" y="757"/><text class="lb" x="130" y="769">N</text></g>
<g id="n13-16"><use href="#tri" class="g" x="135" y="798"/><text class="lb" x="135" y="810">NOMO</text></g>
<g id="n13-17"><use href="#tri" class="r" x="225" y="720"/><text class="lb" x="225" y="732">CREAT</text></g>
<g id="n13-18"><use href="#tri" class="p" x="220" y="737"/><text class="lb" x="220" y="749">GLKPH</text></g>
<g id="n13-19"><use href="#tri" class="r" x="165" y="742"/><text class="lb" x="163" y="754">PLATE</text></g>
<g id="n13-20"><use href="#tri" class="r" x="182" y="750"/><text class="lb" x="184" y="762">BUN</text></g>
<g id="n13-21"><use href="#tri" class="o" x="165" y="769"/><text class="lb" x="163" y="781">NEUTS</text></g>
<g id="n13-22"><use href="#tri" class="r" x="176" y="776"/><text class="lb" x="178" y="788">GLUT</text></g>
</g>

<!-- Panel 14 -->
<g id="panel14">
<g id="conn14" class="cn">
<line class="o" x1="437" y1="705" x2="461" y2="624"/>
<line class="p" x1="437" y1="705" x2="503" y2="640"/>
<line class="o" x1="437" y1="705" x2="493" y2="662"/>
<line class="o" x1="437" y1="705" x2="515" y2="680"/>
<line class="r" x1="437" y1="705" x2="365" y2="656"/>
<line class="r" x1="437" y1="705" x2="368" y2="668"/>
<line class="p" x1="437" y1="705" x2="362" y2="692"/>
<line class="o" x1="437" y1="705" x2="382" y2="711"/>
<line class="g" x1="437" y1="705" x2="365" y2="717"/>
<line class="g" x1="437" y1="705" x2="374" y2="730"/>
<line class="p" x1="437" y1="705" x2="408" y2="722"/>
<line class="p" x1="437" y1="705" x2="521" y2="703"/>
<line class="r" x1="437" y1="705" x2="510" y2="714"/>
<line class="r" x1="437" y1="705" x2="498" y2="723"/>
<line class="r" x1="437" y1="705" x2="500" y2="747"/>
<line class="g" x1="437" y1="705" x2="393" y2="757"/>
<line class="g" x1="437" y1="705" x2="438" y2="757"/>
<line class="g" x1="437" y1="705" x2="432" y2="794"/>
<line class="o" x1="437" y1="705" x2="489" y2="795"/>
<line class="r" x1="437" y1="705" x2="478" y2="800"/>
</g>
<circle class="ctr" cx="437" cy="705" r="2.5"/>
<g id="n14-1"><use href="#tri" class="o" x="461" y="624"/><text class="lb" x="461" y="636">HGB</text></g>
<g id="n14-2"><use href="#tri" class="p" x="503" y="640"/><text class="lb" x="503" y="652">GLAT</text></g>
<g id="n14-3"><use href="#tri" class="o" x="493" y="662"/><text class="lb" x="493" y="674">RBC</text></g>
<g id="n14-4"><use href="#tri" class="o" x="515" y="680"/><text class="lb" x="515" y="692">HCT</text></g>
<g id="n14-5"><use href="#tri" class="r" x="365" y="656"/></g>
<g id="n14-6"><use href="#tri" class="r" x="368" y="668"/><text class="lb" x="368" y="680">URK</text></g>
<g id="n14-7"><use href="#tri" class="p" x="362" y="692"/><text class="lb" x="362" y="704">GLAT</text></g>
<g id="n14-8"><use href="#tri" class="o" x="382" y="711"/></g>
<g id="n14-9"><use href="#tri" class="g" x="365" y="717"/><text class="lb" x="363" y="729">COGC</text></g>
<g id="n14-10"><use href="#tri" class="g" x="374" y="730"/><text class="lb" x="376" y="742">COGA</text></g>
<g id="n14-11"><use href="#tri" class="p" x="408" y="722"/><text class="lb" x="408" y="734">GLYOT</text></g>
<g id="n14-12"><use href="#tri" class="p" x="521" y="703"/></g>
<g id="n14-13"><use href="#tri" class="r" x="510" y="714"/><text class="lb" x="516" y="720">GLAT</text></g>
<g id="n14-14"><use href="#tri" class="r" x="498" y="723"/><text class="lb" x="498" y="735">PLATE</text></g>
<g id="n14-15"><use href="#tri" class="r" x="500" y="747"/><text class="lb" x="500" y="759">BUN</text></g>
<g id="n14-16"><use href="#tri" class="g" x="393" y="757"/><text class="lb" x="393" y="769">NA</text></g>
<g id="n14-17"><use href="#tri" class="g" x="438" y="757"/><text class="lb" x="438" y="769">N</text></g>
<g id="n14-18"><use href="#tri" class="g" x="432" y="794"/><text class="lb" x="432" y="806">NOMO</text></g>
<g id="n14-19"><use href="#tri" class="o" x="489" y="795"/><text class="lb" x="492" y="805">NEUTS</text></g>
<g id="n14-20"><use href="#tri" class="r" x="478" y="800"/><text class="lb" x="476" y="812">GLUT</text></g>
</g>

<!-- Panel 15 -->
<g id="panel15">
<g id="conn15" class="cn">
<line class="g" x1="724" y1="705" x2="670" y2="647"/>
<line class="g" x1="724" y1="705" x2="681" y2="644"/>
<line class="g" x1="724" y1="705" x2="722" y2="650"/>
<line class="r" x1="724" y1="705" x2="745" y2="627"/>
<line class="o" x1="724" y1="705" x2="762" y2="639"/>
<line class="r" x1="724" y1="705" x2="781" y2="665"/>
<line class="r" x1="724" y1="705" x2="664" y2="710"/>
<line class="p" x1="724" y1="705" x2="671" y2="717"/>
<line class="r" x1="724" y1="705" x2="795" y2="702"/>
<line class="p" x1="724" y1="705" x2="760" y2="724"/>
<line class="r" x1="724" y1="705" x2="795" y2="732"/>
<line class="p" x1="724" y1="705" x2="808" y2="742"/>
<line class="o" x1="724" y1="705" x2="801" y2="748"/>
<line class="o" x1="724" y1="705" x2="800" y2="757"/>
<line class="o" x1="724" y1="705" x2="670" y2="738"/>
<line class="p" x1="724" y1="705" x2="650" y2="759"/>
<line class="g" x1="724" y1="705" x2="663" y2="767"/>
<line class="g" x1="724" y1="705" x2="668" y2="770"/>
<line class="o" x1="724" y1="705" x2="748" y2="772"/>
<line class="p" x1="724" y1="705" x2="790" y2="776"/>
</g>
<circle class="ctr" cx="724" cy="705" r="2.5"/>
<g id="n15-1"><use href="#tri" class="g" x="670" y="647"/><text class="lb" x="668" y="659">NA</text></g>
<g id="n15-2"><use href="#tri" class="g" x="681" y="644"/><text class="lb" x="686" y="656">NEUTS</text></g>
<g id="n15-3"><use href="#tri" class="g" x="722" y="650"/><text class="lb" x="722" y="662">N</text></g>
<g id="n15-4"><use href="#tri" class="r" x="745" y="627"/><text class="lb" x="745" y="639">GLUT</text></g>
<g id="n15-5"><use href="#tri" class="o" x="762" y="639"/><text class="lb" x="764" y="651">NEUTS</text></g>
<g id="n15-6"><use href="#tri" class="r" x="781" y="665"/><text class="lb" x="781" y="677">BUN</text></g>
<g id="n15-7"><use href="#tri" class="r" x="664" y="710"/><text class="lb" x="663" y="722">CL</text></g>
<g id="n15-8"><use href="#tri" class="p" x="671" y="717"/><text class="lb" x="678" y="722">GLBR</text></g>
<g id="n15-9"><use href="#tri" class="r" x="795" y="702"/><text class="lb" x="795" y="714">PLATE</text></g>
<g id="n15-10"><use href="#tri" class="p" x="760" y="724"/><text class="lb" x="760" y="736">GLYOT</text></g>
<g id="n15-11"><use href="#tri" class="r" x="795" y="732"/><text class="lb" x="791" y="742">CREAT</text></g>
<g id="n15-12"><use href="#tri" class="p" x="808" y="742"/><text class="lb" x="810" y="750">GLKPH</text></g>
<g id="n15-13"><use href="#tri" class="o" x="801" y="748"/><text class="lb" x="800" y="759">HCT</text></g>
<g id="n15-14"><use href="#tri" class="o" x="800" y="757"/><text class="lb" x="802" y="769">RBC</text></g>
<g id="n15-15"><use href="#tri" class="o" x="670" y="738"/><text class="lb" x="670" y="750">GGT</text></g>
<g id="n15-16"><use href="#tri" class="p" x="650" y="759"/><text class="lb" x="648" y="771">GLAT</text></g>
<g id="n15-17"><use href="#tri" class="g" x="663" y="767"/><text class="lb" x="662" y="779">COGA</text></g>
<g id="n15-18"><use href="#tri" class="g" x="668" y="770"/><text class="lb" x="668" y="786">COGC</text></g>
<g id="n15-19"><use href="#tri" class="o" x="748" y="772"/><text class="lb" x="748" y="784">HGB</text></g>
<g id="n15-20"><use href="#tri" class="p" x="790" y="776"/><text class="lb" x="790" y="788">GLAT</text></g>
</g>

<!-- Panel 16 -->
<g id="panel16">
<g id="conn16" class="cn">
<line class="r" x1="1013" y1="705" x2="955" y2="632"/>
<line class="o" x1="1013" y1="705" x2="967" y2="629"/>
<line class="r" x1="1013" y1="705" x2="999" y2="642"/>
<line class="g" x1="1013" y1="705" x2="950" y2="652"/>
<line class="g" x1="1013" y1="705" x2="954" y2="672"/>
<line class="g" x1="1013" y1="705" x2="952" y2="707"/>
<line class="r" x1="1013" y1="705" x2="1070" y2="681"/>
<line class="p" x1="1013" y1="705" x2="1060" y2="702"/>
<line class="r" x1="1013" y1="705" x2="1080" y2="702"/>
<line class="p" x1="1013" y1="705" x2="1092" y2="717"/>
<line class="o" x1="1013" y1="705" x2="1104" y2="720"/>
<line class="p" x1="1013" y1="705" x2="1088" y2="734"/>
<line class="o" x1="1013" y1="705" x2="1066" y2="742"/>
<line class="p" x1="1013" y1="705" x2="961" y2="760"/>
<line class="o" x1="1013" y1="705" x2="983" y2="750"/>
<line class="p" x1="1013" y1="705" x2="990" y2="762"/>
<line class="r" x1="1013" y1="705" x2="1001" y2="760"/>
<line class="g" x1="1013" y1="705" x2="953" y2="785"/>
<line class="g" x1="1013" y1="705" x2="962" y2="787"/>
</g>
<circle class="ctr" cx="1013" cy="705" r="2.5"/>
<g id="n16-1"><use href="#tri" class="r" x="955" y="632"/><text class="lb" x="953" y="644">URK</text></g>
<g id="n16-2"><use href="#tri" class="o" x="967" y="629"/><text class="lb" x="972" y="641">NEUTS</text></g>
<g id="n16-3"><use href="#tri" class="r" x="999" y="642"/><text class="lb" x="999" y="654">BUN</text></g>
<g id="n16-4"><use href="#tri" class="g" x="950" y="652"/><text class="lb" x="950" y="664">N</text></g>
<g id="n16-5"><use href="#tri" class="g" x="954" y="672"/><text class="lb" x="954" y="684">NOMO</text></g>
<g id="n16-6"><use href="#tri" class="g" x="952" y="707"/><text class="lb" x="952" y="719">NA</text></g>
<g id="n16-7"><use href="#tri" class="r" x="1070" y="681"/><text class="lb" x="1070" y="693">PLATE</text></g>
<g id="n16-8"><use href="#tri" class="p" x="1060" y="702"/><text class="lb" x="1058" y="714">GLYOT</text></g>
<g id="n16-9"><use href="#tri" class="r" x="1080" y="702"/><text class="lb" x="1084" y="710">CREAT</text></g>
<g id="n16-10"><use href="#tri" class="p" x="1092" y="717"/></g>
<g id="n16-11"><use href="#tri" class="o" x="1104" y="720"/><text class="lb" x="1104" y="732">RBC</text></g>
<g id="n16-12"><use href="#tri" class="p" x="1088" y="734"/><text class="lb" x="1088" y="746">GLAT</text></g>
<g id="n16-13"><use href="#tri" class="o" x="1066" y="742"/><text class="lb" x="1066" y="754">HGB</text></g>
<g id="n16-14"><use href="#tri" class="p" x="961" y="760"/><text class="lb" x="960" y="772">GGT</text></g>
<g id="n16-15"><use href="#tri" class="o" x="983" y="750"/></g>
<g id="n16-16"><use href="#tri" class="p" x="990" y="762"/><text class="lb" x="988" y="774">GLBR</text></g>
<g id="n16-17"><use href="#tri" class="r" x="1001" y="760"/><text class="lb" x="1005" y="772">CL</text></g>
<g id="n16-18"><use href="#tri" class="g" x="953" y="785"/><text class="lb" x="951" y="797">COGA</text></g>
<g id="n16-19"><use href="#tri" class="g" x="962" y="787"/><text class="lb" x="966" y="803">COGC</text></g>
</g>
</svg>
